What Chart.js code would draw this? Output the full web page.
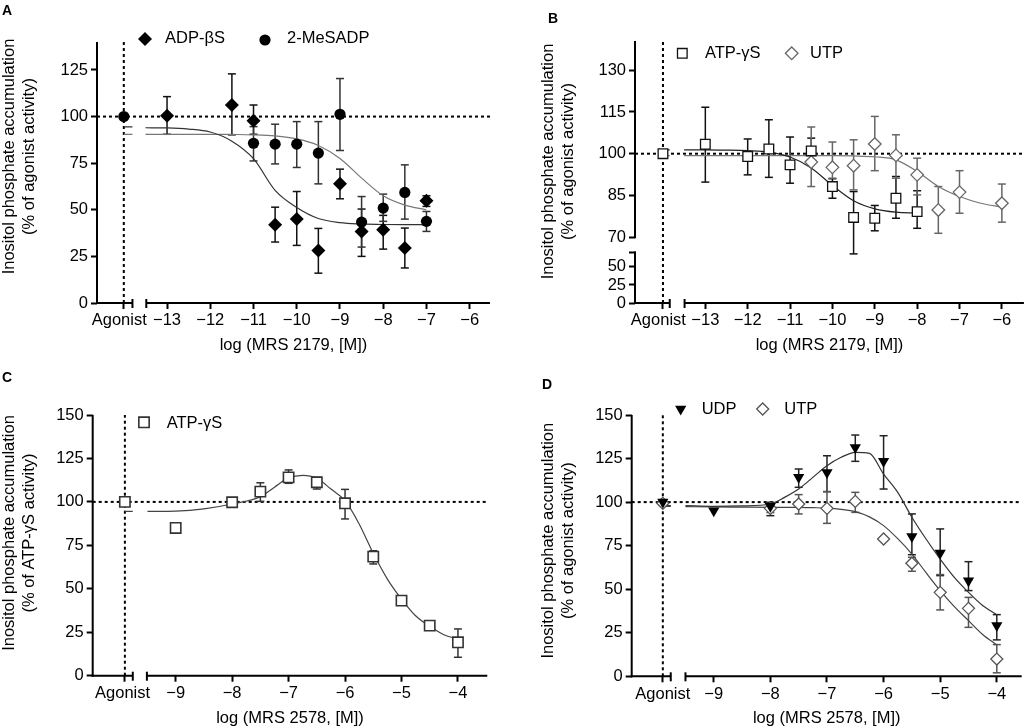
<!DOCTYPE html>
<html lang="en">
<head>
<meta charset="UTF-8">
<title>Inositol phosphate accumulation - MRS 2179 / MRS 2578</title>
<script src="https://cdn.jsdelivr.net/npm/chart.js"></script>
<style>
  body { margin: 0; background: #fff; font-family: 'Liberation Sans', Arial, Helvetica, sans-serif; }
  #page { position: relative; width: 1032px; height: 728px; overflow: hidden; }
  canvas { position: absolute; }
  .tag { position: absolute; font-weight: bold; font-size: 14px; line-height: 16px; }
</style>
</head>
<body>
<div id="page">
  <canvas id="chartA" width="516" height="364" style="left:0;top:0"></canvas>
  <canvas id="chartB" width="516" height="364" style="left:516px;top:0"></canvas>
  <canvas id="chartC" width="516" height="364" style="left:0;top:364px"></canvas>
  <canvas id="chartD" width="516" height="364" style="left:516px;top:364px"></canvas>
  <div class="tag" style="left:2px;top:2px">A</div>
  <div class="tag" style="left:548px;top:10px">B</div>
  <div class="tag" style="left:2px;top:369px">C</div>
  <div class="tag" style="left:542px;top:376px">D</div>
</div>

<script>
// ---------- Panel A : MRS 2179 against ADP-βS / 2-MeSADP ----------
const aTicks = [-14, -13, -12, -11, -10, -9, -8, -7, -6];
const aTickLabels = ['Agonist  ', '−13', '−12', '−11', '−10', '−9', '−8', '−7', '−6'];
const aYTicks = [0, 25, 50, 75, 100, 125];

const adpX  = [-13, -11.5, -11, -10.5, -10, -9.5, -9, -8.5, -8, -7.5, -7];
const adpY  = [100.5, 106.2, 97.7, 42.0, 45.0, 28.2, 63.9, 38.4, 39.3, 29.5, 54.8];
const adpHi = [110.7, 122.9, 106.2, 51.4, 59.8, 40.0, 71.8, 50.4, 47.0, 40.2, 57.5];
const adpLo = [90.5, 90.2, 90.5, 32.7, 30.9, 16.0, 55.9, 25.0, 28.9, 18.8, 51.8];

const meX  = [-14, -11, -10.5, -10, -9.5, -9, -8.5, -8, -7.5, -7];
const meY  = [100, 85.7, 85.2, 85.2, 80.4, 101.2, 43.4, 50.9, 59.3, 43.8];
const meHi = [100, 94.6, 95.9, 97.3, 97.3, 120.4, 57.1, 58.4, 74.1, 49.1];
const meLo = [100, 76.2, 74.6, 72.7, 63.9, 81.8, 30.0, 43.8, 45.0, 38.4];

const aFitX   = [-14, -13.8, -13.65, -13.5, -13, -12.5, -12, -11.5, -11, -10.5, -10, -9.5, -9, -8.5, -8, -7.5, -7];
const adpFitY = [94.5, 94.5, null, 94.0, 93.9, 93.3, 91.7, 86.8, 77.4, 60.4, 51.2, 45.3, 43.1, 42.4, 42.1, 42.0, 42.0];
const meFitY  = [90.5, 90.5, null, 90.5, 90.5, 90.5, 90.5, 90.4, 90.2, 89.6, 88.0, 84.5, 77.5, 67.0, 57.5, 52.5, 50.0];

// ---------- Panel B : MRS 2179 against ATP-γS / UTP ----------
const bTicks = [-14, -13, -12, -11, -10, -9, -8, -7, -6];
const bTickLabels = ['Agonist  ', '−13', '−12', '−11', '−10', '−9', '−8', '−7', '−6'];
const bYTicksUpper = [70, 85, 100, 115, 130];
const bYTicksLower = [0, 25, 50];

const atpBX  = [-14, -13, -12, -11.5, -11, -10.5, -10, -9.5, -9, -8.5, -8];
const atpBY  = [100, 103.4, 99.0, 101.7, 96.0, 101.0, 88.2, 77.1, 76.8, 84.0, 79.2];
const atpBHi = [100, 116.7, 105.3, 112.2, 106.0, 105.6, 91.0, 86.4, 81.4, 91.8, 86.7];
const atpBLo = [100, 89.8, 92.4, 91.5, 89.4, 96.5, 84.0, 64.0, 72.3, 76.8, 73.2];

const utpBX  = [-10.5, -10, -9.5, -9, -8.5, -8, -7.5, -7, -6];
const utpBY  = [97.0, 95.1, 95.7, 103.5, 99.4, 92.4, 79.8, 86.2, 82.2];
const utpBHi = [109.6, 104.2, 105.0, 113.4, 106.8, 98.4, 88.2, 93.9, 89.1];
const utpBLo = [88.2, 91.2, 87.0, 93.9, 91.2, 85.2, 71.4, 78.6, 75.4];

const atpBFitX = [-14, -13.84, -13.67, -13.5, -13, -12.5, -12, -11.5, -11, -10.5, -10, -9.5, -9, -8.5, -8];
const atpBFitY = [101.4, 101.4, null, 101.4, 101.4, 101.3, 101.1, 100.6, 98.8, 94.9, 88.6, 83.1, 80.2, 79.0, 78.7];
const utpBFitX = [-14, -13.84, -13.67, -13.5, -13, -12, -11, -10, -9.5, -9, -8.5, -8, -7.5, -7, -6.5, -6];
const utpBFitY = [99.3, 99.3, null, 99.3, 99.3, 99.3, 99.3, 99.3, 99.2, 98.9, 97.8, 93.6, 88.2, 84.6, 82.2, 80.8];

// ---------- Panel C : MRS 2578 against ATP-γS ----------
const cTicks = [-9.9, -9, -8, -7, -6, -5, -4];
const cTickLabels = ['Agonist ', '−9', '−8', '−7', '−6', '−5', '−4'];
const cdYTicks = [0, 25, 50, 75, 100, 125, 150];

const atpCX  = [-9.9, -9, -8, -7.5, -7, -6.5, -6, -5.5, -5, -4.5, -4];
const atpCY  = [100, 85.0, 99.8, 105.9, 114.1, 111.3, 99.2, 68.5, 43.2, 28.8, 19.2];
const atpCHi = [100, 85.0, 101.0, 111.0, 118.4, 114.1, 107.2, 71.9, 45.1, 29.5, 26.9];
const atpCLo = [100, 85.0, 98.5, 100.3, 110.7, 107.4, 90.2, 64.3, 41.2, 28.0, 10.6];

const atpCFitX = [-9.9, -9.76, -9.63, -9.5, -9, -8.5, -8, -7.5, -7.25, -7, -6.75, -6.5, -6.25, -6, -5.75, -5.5, -5.25, -5, -4.75, -4.5, -4.25, -4];
const atpCFitY = [94.5, 94.5, null, 94.5, 94.7, 96.0, 98.8, 103.0, 108.5, 113.8, 115.3, 113.6, 107.4, 100.7, 87.3, 70.4, 55.6, 44.1, 34.5, 28.4, 23.6, 21.1];

// ---------- Panel D : MRS 2578 against UDP / UTP ----------
const dTicks = [-9.9, -9, -8, -7, -6, -5, -4];
const dTickLabels = ['Agonist', '−9', '−8', '−7', '−6', '−5', '−4'];

const udpX  = [-9.9, -9, -8, -7.5, -7, -6.5, -6, -5.5, -5, -4.5, -4];
const udpY  = [100, 95.0, 97.6, 114.2, 117.0, 131.4, 123.4, 80.2, 70.8, 54.9, 29.1];
const udpHi = [101, 95.0, 99.9, 119.0, 126.6, 138.5, 138.1, 93.2, 84.6, 65.8, 35.4];
const udpLo = [98, 95.0, 92.2, 108.5, 106.0, 123.4, 107.5, 69.8, 57.8, 49.2, 20.9];

const utpDX  = [-9.9, -8, -7.5, -7, -6.5, -6, -5.5, -5, -4.5, -4];
const utpDY  = [99.3, 96.4, 98.9, 96.4, 100.4, 78.8, 64.9, 48.2, 39.0, 9.9];
const utpDHi = [99.3, 98.0, 104.3, 106.0, 105.6, 78.8, 68.3, 58.4, 45.3, 18.2];
const utpDLo = [99.3, 94.0, 93.2, 87.8, 94.1, 78.8, 60.3, 38.1, 28.1, 2.0];

const dFitX   = [-9.9, -9.76, -9.63, -9.5, -9, -8.5, -8, -7.75, -7.5, -7.25, -7, -6.75, -6.5, -6.25, -6, -5.75, -5.5, -5.25, -5, -4.75, -4.5, -4.25, -4];
const udpFitY = [98.0, 98.0, null, 98.0, 97.6, 97.8, 98.9, 102.7, 107.5, 114.2, 120.9, 125.7, 128.6, 128.0, 116.1, 105.6, 91.3, 78.8, 67.3, 56.8, 48.2, 40.6, 35.4];
const utpFitY = [97.6, 97.6, null, 97.4, 97.2, 97.1, 97.0, 97.0, 97.0, 96.8, 96.5, 95.8, 94.5, 91.5, 86.5, 79.0, 70.2, 59.5, 49.2, 40.0, 32.0, 24.0, 18.0];

const yTitle = ['Inositol phosphate accumulation', '(% of agonist activity)'];
const yTitleC = ['Inositol phosphate accumulation', '(% of ATP-γS activity)'];

Chart.defaults.font.family = "'Liberation Sans', Arial, Helvetica, sans-serif";
Chart.defaults.font.size = 16.5;
Chart.defaults.color = '#000';

function pts(xs, ys) {
  return xs.map((x, i) => ({ x: x, y: ys[i] }));
}

function markerSet(label, xs, ys, hi, lo, st) {
  return {
    label: label, data: pts(xs, ys), yAxisID: 'y',
    errHi: hi, errLo: lo, errColor: st.err,
    showLine: false,
    pointStyle: st.shape, pointRadius: st.r, pointRotation: st.rot || 0,
    pointBackgroundColor: st.fill, pointBorderColor: st.stroke || st.fill,
    pointBorderWidth: st.bw || 0
  };
}

function fitSet(xs, ys, color) {
  return {
    data: pts(xs, ys), yAxisID: 'y',
    showLine: true, pointRadius: 0, borderColor: color, borderWidth: 1.2,
    cubicInterpolationMode: 'monotone', spanGaps: false, fill: false
  };
}

function seg(ctx, x1, y1, x2, y2) {
  ctx.beginPath();
  ctx.moveTo(x1, y1);
  ctx.lineTo(x2, y2);
  ctx.stroke();
}

function drawMarker(ctx, ds, x, y) {
  const r = ds.pointRadius;
  ctx.beginPath();
  if (ds.pointStyle === 'circle') {
    ctx.arc(x, y, r, 0, Math.PI * 2);
  } else if (ds.pointStyle === 'rectRot') {
    ctx.moveTo(x - r, y); ctx.lineTo(x, y - r); ctx.lineTo(x + r, y); ctx.lineTo(x, y + r);
  } else if (ds.pointStyle === 'rect') {
    const s = r * Math.SQRT1_2;
    ctx.rect(x - s, y - s, 2 * s, 2 * s);
  } else if (ds.pointStyle === 'triangle') {
    ctx.moveTo(x, y + r); ctx.lineTo(x - r * 0.866, y - r / 2); ctx.lineTo(x + r * 0.866, y - r / 2);
  }
  ctx.closePath();
  ctx.fillStyle = ds.pointBackgroundColor;
  ctx.fill();
  if (ds.pointBorderWidth) {
    ctx.lineWidth = ds.pointBorderWidth;
    ctx.strokeStyle = ds.pointBorderColor;
    ctx.stroke();
  }
}

// dotted reference lines, error bars, broken axes, legend and y title
const decor = {
  id: 'decor',
  beforeDatasetsDraw(chart, args, o) {
    const ctx = chart.ctx, ca = chart.chartArea, xs = chart.scales.x, ys = chart.scales.y;
    ctx.save();
    ctx.strokeStyle = '#000';
    ctx.lineWidth = 2;
    ctx.setLineDash([3, 3]);
    const yRef = ys.getPixelForValue(100);
    seg(ctx, ca.left, yRef, ca.right, yRef);
    const xAg = xs.getPixelForValue(o.agonist);
    seg(ctx, xAg, ca.bottom, xAg, ca.top);
    ctx.setLineDash([]);

    ctx.lineWidth = 1.5;
    chart.data.datasets.forEach(ds => {
      if (!ds.errHi) return;
      ctx.strokeStyle = ds.errColor;
      ds.data.forEach((p, i) => {
        const hi = ds.errHi[i], lo = ds.errLo[i];
        if (hi === lo) return;
        const px = xs.getPixelForValue(p.x);
        const ph = ys.getPixelForValue(hi), pl = ys.getPixelForValue(lo);
        seg(ctx, px, ph, px, pl);
        seg(ctx, px - 4, ph, px + 4, ph);
        seg(ctx, px - 4, pl, px + 4, pl);
      });
    });
    ctx.restore();
  },
  afterDraw(chart, args, o) {
    const ctx = chart.ctx, ca = chart.chartArea, xs = chart.scales.x;
    ctx.save();
    ctx.strokeStyle = '#000';
    ctx.lineWidth = 2;
    // x axis in two pieces
    const yb = ca.bottom;
    const xL = xs.getPixelForValue(o.breakL), xR = xs.getPixelForValue(o.breakR);
    seg(ctx, ca.left - 1, yb, xL, yb);
    seg(ctx, xR, yb, ca.right, yb);
    seg(ctx, xL, yb - 4, xL, yb + 5);
    seg(ctx, xR, yb - 4, xR, yb + 5);
    // y axis
    if (chart.scales.yLow) {
      const up = chart.scales.y, low = chart.scales.yLow;
      seg(ctx, ca.left, up.getPixelForValue(70) + 1, ca.left, ca.top);
      const lt = low.getPixelForValue(low.max);
      seg(ctx, ca.left, yb + 1, ca.left, lt - 1);
      seg(ctx, ca.left - 6, lt, ca.left + 1, lt);
    } else {
      seg(ctx, ca.left, yb + 1, ca.left, ca.top);
    }

    // legend
    ctx.textBaseline = 'middle';
    ctx.textAlign = 'left';
    ctx.font = '16.5px ' + Chart.defaults.font.family;
    o.legend.forEach(item => {
      const ds = chart.data.datasets[item.ds];
      drawMarker(ctx, ds, item.mx, item.my);
      ctx.fillStyle = '#000';
      ctx.fillText(ds.label, item.tx, item.ty);
    });

    // rotated y title, two lines
    ctx.textAlign = 'center';
    ctx.fillStyle = '#000';
    o.title.lines.forEach((t, i) => {
      ctx.save();
      ctx.translate(o.title.x[i], o.title.y);
      ctx.rotate(-Math.PI / 2);
      ctx.fillText(t, 0, 0);
      ctx.restore();
    });
    ctx.restore();
  }
};

function yScale(min, max, ticks, width, extra) {
  return Object.assign({
    type: 'linear', position: 'left', min: min, max: max,
    afterBuildTicks: s => { s.ticks = ticks.map(v => ({ value: v })); },
    afterFit: s => { s.width = width; },
    ticks: { autoSkip: false, padding: 3, color: '#000' },
    grid: { drawOnChartArea: false, tickLength: 6, tickColor: '#000', tickWidth: 2 },
    border: { display: false }
  }, extra || {});
}

function xScale(min, max, ticks, labels, height, title, titlePad) {
  return {
    type: 'linear', position: 'bottom', min: min, max: max,
    afterBuildTicks: s => { s.ticks = ticks.map(v => ({ value: v })); },
    afterFit: s => { s.height = height; },
    ticks: { autoSkip: false, maxRotation: 0, padding: 2, color: '#000', callback: (v, i) => labels[i] },
    grid: { drawOnChartArea: false, tickLength: 6, tickColor: '#000', tickWidth: 2 },
    border: { display: false },
    title: { display: true, text: title, color: '#000', font: { size: 16.5, lineHeight: 1 }, padding: { top: 0, bottom: titlePad } }
  };
}

function makeChart(id, datasets, scales, pad, decorOpts) {
  return new Chart(document.getElementById(id), {
    type: 'scatter',
    data: { datasets: datasets },
    options: {
      responsive: false,
      animation: false,
      events: [],
      layout: { padding: { left: 0, top: pad.top, right: pad.right, bottom: 0 } },
      plugins: { legend: { display: false }, tooltip: { enabled: false }, decor: decorOpts },
      scales: scales
    },
    plugins: [decor]
  });
}

// Panel A
makeChart('chartA', [
  markerSet('ADP-βS', adpX, adpY, adpHi, adpLo, { shape: 'rectRot', r: 7, fill: '#000', err: '#111' }),
  markerSet('2-MeSADP', meX, meY, meHi, meLo, { shape: 'circle', r: 5.6, fill: '#000', err: '#333' }),
  fitSet(aFitX, adpFitY, '#333'),
  fitSet(aFitX, meFitY, '#777')
], {
  x: xScale(-14.62, -5.53, aTicks, aTickLabels, 61, 'log (MRS 2179, [M])', 10),
  y: yScale(0, 140, aYTicks, 97)
}, { top: 42, right: 26 }, {
  agonist: -14, breakL: -13.8, breakR: -13.48,
  legend: [{ ds: 0, mx: 145, my: 39, tx: 165, ty: 38.5 }, { ds: 1, mx: 265, my: 40, tx: 287, ty: 38.5 }],
  title: { lines: yTitle, x: [9.5, 29.5], y: 156.5 }
});

// Panel B (broken y axis: two stacked scales)
makeChart('chartB', [
  markerSet('ATP-γS', atpBX, atpBY, atpBHi, atpBLo, { shape: 'rect', r: 6.8, fill: '#fff', stroke: '#111', bw: 1.3, err: '#111' }),
  markerSet('UTP', utpBX, utpBY, utpBHi, utpBLo, { shape: 'rectRot', r: 6.3, fill: '#fff', stroke: '#666', bw: 1.3, err: '#666' }),
  fitSet(atpBFitX, atpBFitY, '#222'),
  fitSet(utpBFitX, utpBFitY, '#777')
], {
  x: xScale(-14.66, -5.48, bTicks, bTickLabels, 61, 'log (MRS 2179, [M])', 10),
  yLow: yScale(0, 70, bYTicksLower, 119, { stack: 'yb', stackWeight: 50.5 }),
  y: yScale(64.5, 140.5, bYTicksUpper, 119, { stack: 'yb', stackWeight: 211.5 })
}, { top: 41, right: 2 }, {
  agonist: -14, breakL: -13.84, breakR: -13.49,
  legend: [{ ds: 0, mx: 166.3, my: 53.3, tx: 189, ty: 53.5 }, { ds: 1, mx: 275.7, my: 53.3, tx: 294, ty: 53.5 }],
  title: { lines: yTitle, x: [32.3, 52.8], y: 161.5 }
});

// Panel C
makeChart('chartC', [
  markerSet('ATP-γS', atpCX, atpCY, atpCHi, atpCLo, { shape: 'rect', r: 7.3, fill: '#fff', stroke: '#333', bw: 1.6, err: '#333' }),
  fitSet(atpCFitX, atpCFitY, '#444')
], {
  x: xScale(-10.47, -3.48, cTicks, cTickLabels, 52.3, 'log (MRS 2578, [M])', 1),
  y: yScale(0, 150, cdYTicks, 92.7)
}, { top: 51, right: 28.7 }, {
  agonist: -9.9, breakL: -9.76, breakR: -9.51,
  legend: [{ ds: 0, mx: 144, my: 58.3, tx: 166.7, ty: 59.5 }],
  title: { lines: yTitleC, x: [9.5, 29.5], y: 169 }
});

// Panel D
makeChart('chartD', [
  markerSet('UDP', udpX, udpY, udpHi, udpLo, { shape: 'triangle', rot: 180, r: 6.5, fill: '#000', err: '#222' }),
  markerSet('UTP', utpDX, utpDY, utpDHi, utpDLo, { shape: 'rectRot', r: 6, fill: '#fff', stroke: '#555', bw: 1.3, err: '#555' }),
  fitSet(dFitX, udpFitY, '#333'),
  fitSet(dFitX, utpFitY, '#444')
], {
  x: xScale(-10.45, -3.56, dTicks, dTickLabels, 51.7, 'log (MRS 2578, [M])', 1.75),
  y: yScale(0, 150, cdYTicks, 115.7)
}, { top: 51, right: 10.3 }, {
  agonist: -9.9, breakL: -9.76, breakR: -9.5,
  legend: [{ ds: 0, mx: 164.7, my: 45, tx: 185.7, ty: 45 }, { ds: 1, mx: 246.7, my: 45, tx: 268.3, ty: 45 }],
  title: { lines: yTitle, x: [32.3, 52.8], y: 176.7 }
});
</script>
</body>
</html>
